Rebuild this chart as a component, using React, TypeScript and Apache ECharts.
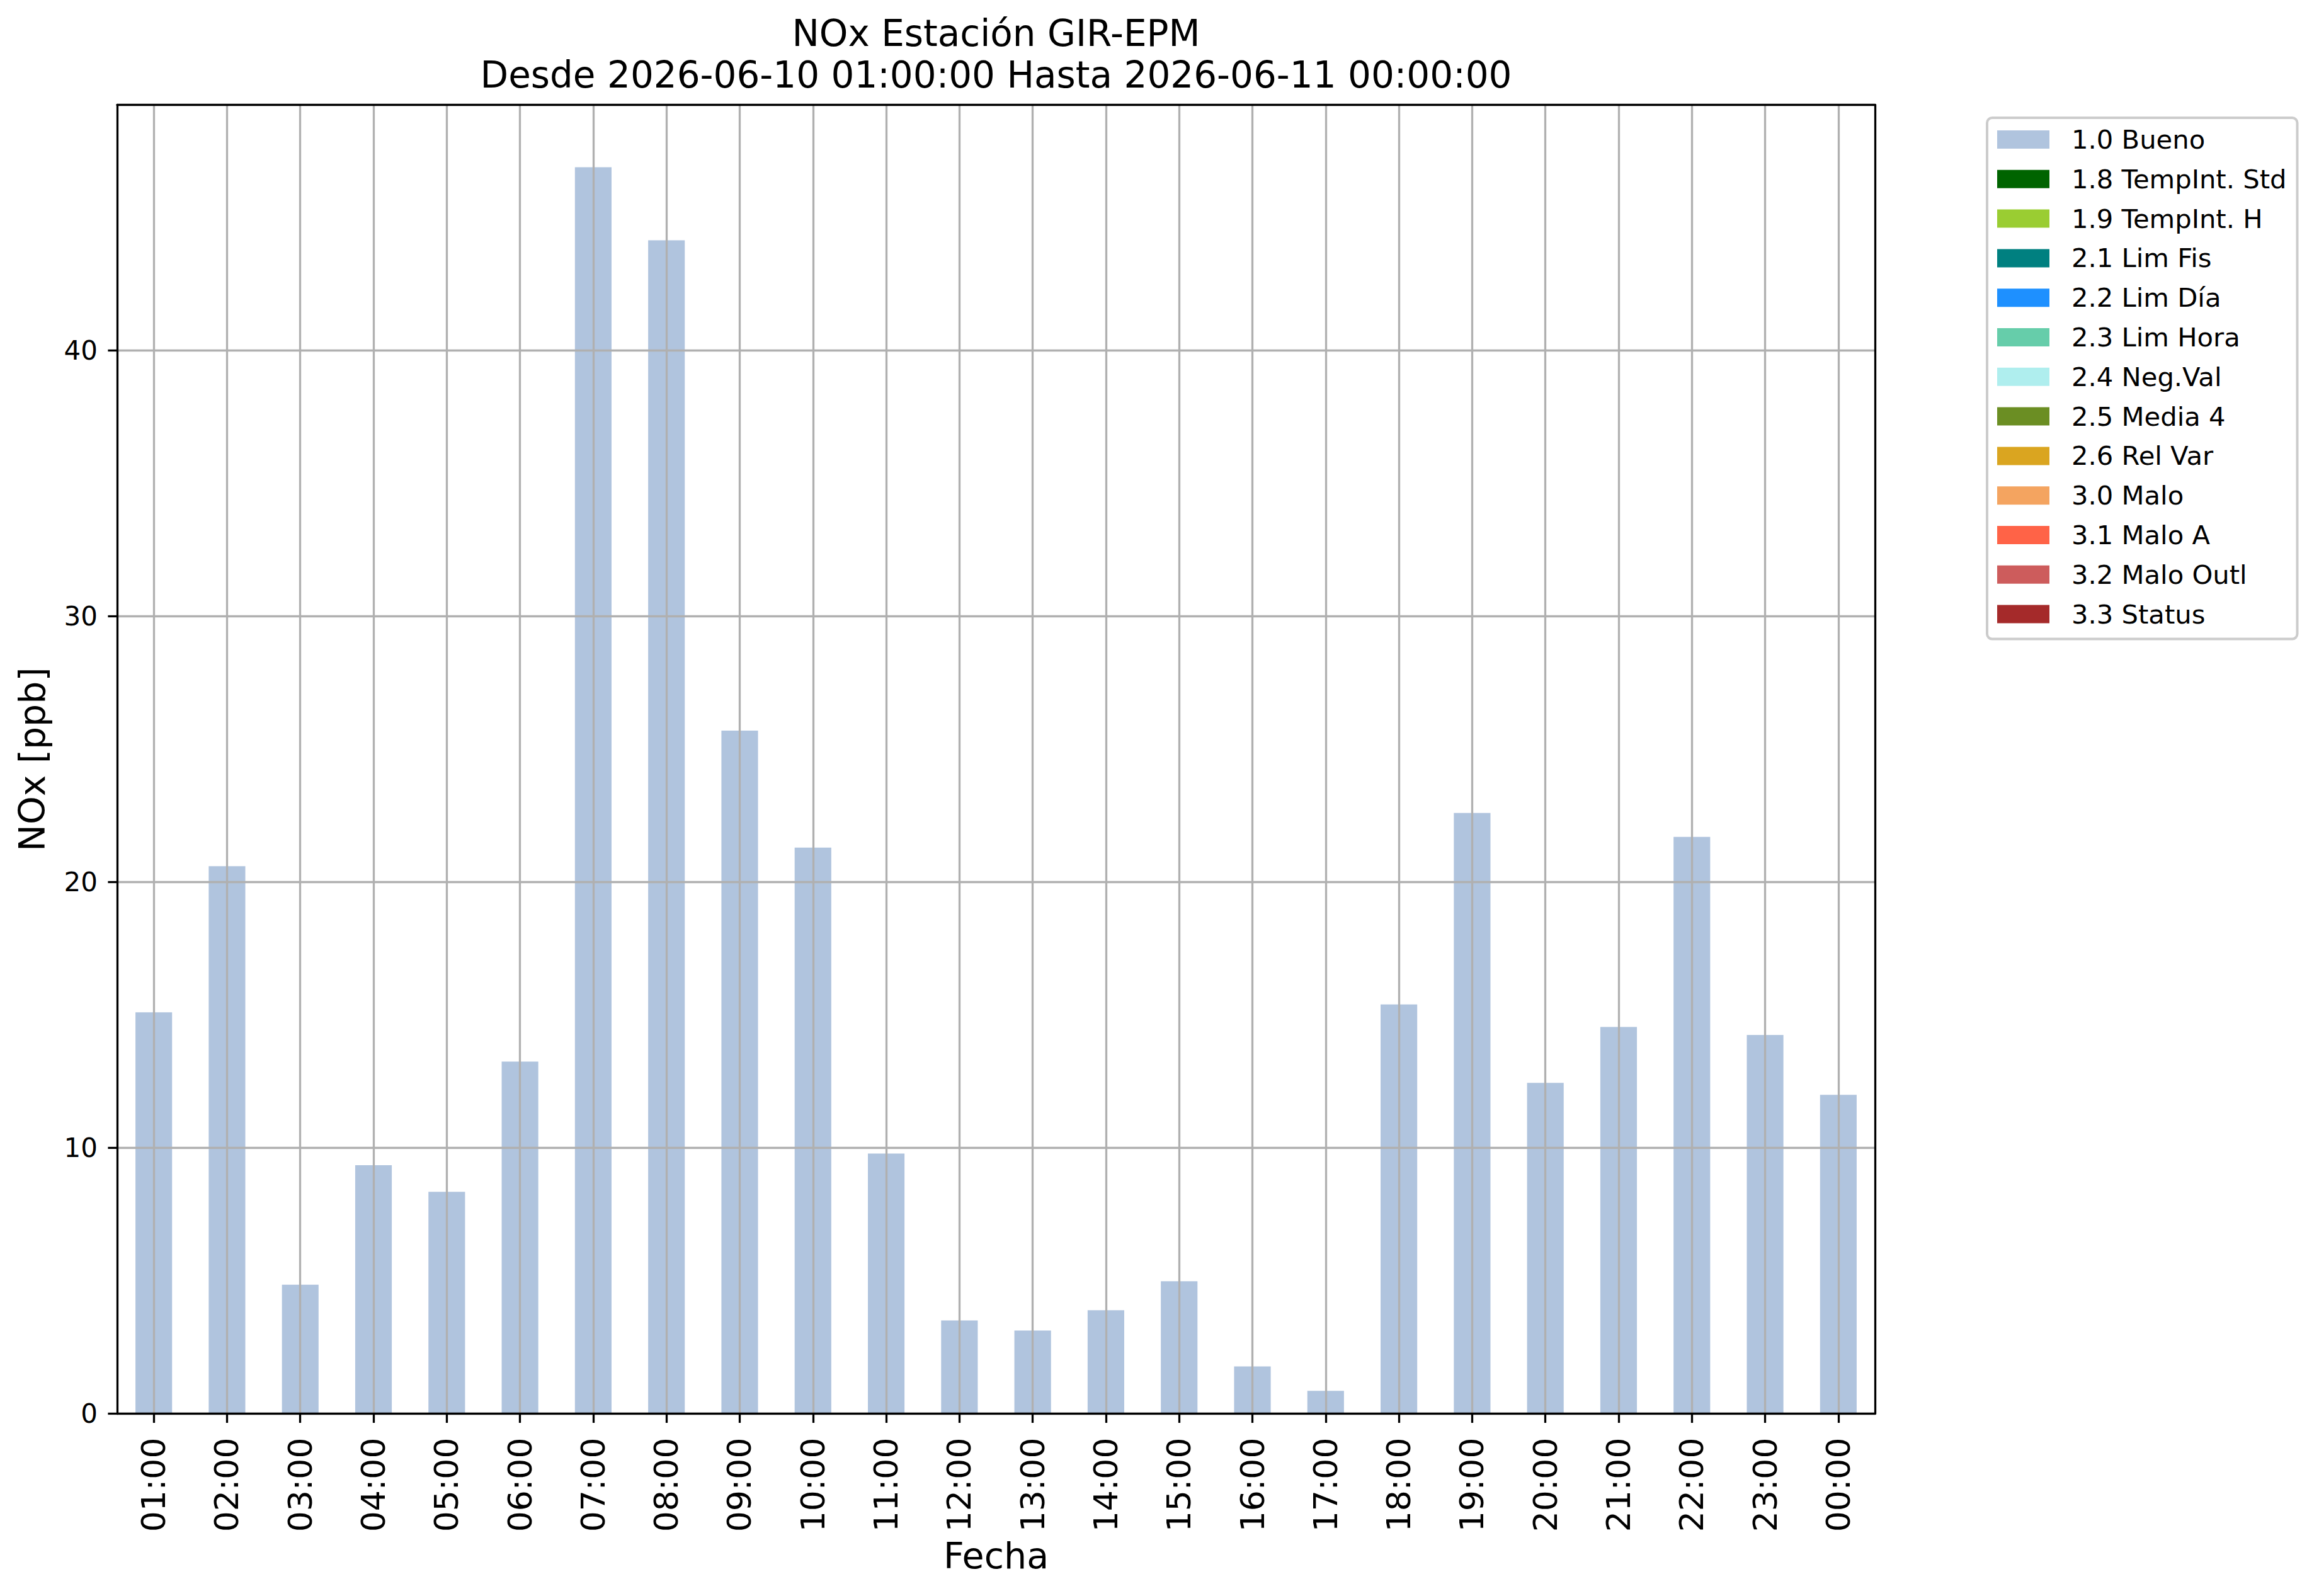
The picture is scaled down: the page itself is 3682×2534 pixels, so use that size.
import React, { useEffect, useRef } from 'react';
import * as echarts from 'echarts';

const categories = [
  '01:00', '02:00', '03:00', '04:00', '05:00', '06:00', '07:00', '08:00',
  '09:00', '10:00', '11:00', '12:00', '13:00', '14:00', '15:00', '16:00',
  '17:00', '18:00', '19:00', '20:00', '21:00', '22:00', '23:00', '00:00',
];

const buenoValues = [
  15.1, 20.6, 4.85, 9.35, 8.35, 13.25, 46.9, 44.15,
  25.7, 21.3, 9.79, 3.51, 3.13, 3.89, 4.98, 1.78,
  0.86, 15.4, 22.6, 12.45, 14.55, 21.7, 14.25, 12.0,
];

const emptyValues: number[] = [];

const legendNames = [
  '1.0 Bueno', '1.8 TempInt. Std', '1.9 TempInt. H', '2.1 Lim Fis', '2.2 Lim Día',
  '2.3 Lim Hora', '2.4 Neg.Val', '2.5 Media 4', '2.6 Rel Var', '3.0 Malo',
  '3.1 Malo A', '3.2 Malo Outl', '3.3 Status',
];

const legendColors = [
  '#B0C4DE', '#006400', '#9ACD32', '#008080', '#1E90FF',
  '#66CDAA', '#AFEEEE', '#6B8E23', '#DAA520', '#F4A460',
  '#FF6347', '#CD5C5C', '#A52A2A',
];

const yTickValues = [0, 10, 20, 30, 40];

const titleLines = ['NOx Estación GIR-EPM', 'Desde 2026-06-10 01:00:00 Hasta 2026-06-11 00:00:00'];
const xAxisTitle = 'Fecha';
const yAxisTitle = 'NOx [ppb]';

const FONT = '"DejaVu Sans", sans-serif';
const W = 3682;
const H = 2534;

export default function App() {
  const ref = useRef<HTMLDivElement>(null);

  useEffect(() => {
    document.body.style.margin = '0';
    if (!ref.current) return;
    const chart = echarts.init(ref.current, null, { renderer: 'svg', width: W, height: H });

    const gridLeft = 186;
    const gridRight = 2977;
    const gridTop = 166.5;
    const gridBottom = 2244.5;
    const yMax = Math.max(...buenoValues) * 1.05;

    const black = { color: '#000', width: 3.3 };
    const gridLineStyle = { color: '#b0b0b0', width: 3.3, type: 'solid' };

    // grid lines drawn over the bars (as matplotlib does here)
    const gridMarkData = [
      ...categories.map((c) => ({ xAxis: c })),
      ...yTickValues.filter((v) => v > 0).map((v) => ({ yAxis: v })),
    ];

    const series = legendNames.map((name, i) => ({
      type: 'bar',
      name,
      stack: 'calidad',
      barWidth: '50%',
      data: i === 0 ? buenoValues : emptyValues,
      itemStyle: { color: legendColors[i] },
      xAxisIndex: 0,
      yAxisIndex: 0,
      z: 2,
      ...(i === 0
        ? {
            markLine: {
              silent: true,
              symbol: ['none', 'none'],
              z: 4,
              label: { show: false },
              emphasis: { disabled: true },
              lineStyle: gridLineStyle,
              data: gridMarkData,
            },
          }
        : {}),
    }));

    chart.setOption({
      animation: false,
      backgroundColor: '#fff',
      grid: {
        left: gridLeft,
        top: gridTop,
        right: W - gridRight,
        bottom: H - gridBottom,
        containLabel: false,
      },
      legend: {
        orient: 'vertical',
        left: 3155,
        top: 187,
        padding: [13.5, 17, 18.5, 16],
        itemWidth: 83,
        itemHeight: 29,
        itemGap: 20.8,
        icon: 'rect',
        selectedMode: false,
        borderColor: '#cccccc',
        borderWidth: 4,
        borderRadius: 8,
        backgroundColor: 'rgba(255,255,255,0.8)',
        textStyle: {
          fontFamily: FONT,
          fontSize: 41.7,
          color: '#000',
          padding: [0, 0, 0, 30],
        },
        data: legendNames,
      },
      xAxis: [
        {
          type: 'category',
          data: categories,
          position: 'bottom',
          z: 6,
          boundaryGap: true,
          axisLine: { show: true, onZero: false, lineStyle: black },
          axisTick: { show: true, alignWithLabel: true, interval: 0, length: 14.6, lineStyle: black },
          axisLabel: {
            rotate: 90,
            interval: 0,
            fontSize: 52,
            margin: 38,
            color: '#000',
            fontFamily: FONT,
          },
          splitLine: { show: false },
        },
        {
          type: 'category',
          data: categories,
          position: 'top',
          z: 6,
          axisLine: { show: true, onZero: false, lineStyle: black },
          axisTick: { show: false },
          axisLabel: { show: false },
          splitLine: { show: false },
        },
      ],
      yAxis: [
        {
          type: 'value',
          min: 0,
          max: yMax,
          interval: 10,
          z: 6,
          axisLine: { show: true, onZero: false, lineStyle: black },
          axisTick: { show: true, length: 14.6, customValues: yTickValues, lineStyle: black },
          axisLabel: {
            customValues: yTickValues,
            fontSize: 42,
            margin: 31,
            color: '#000',
            fontFamily: FONT,
          },
          splitLine: { show: false },
        },
        {
          type: 'value',
          min: 0,
          max: yMax,
          position: 'right',
          z: 6,
          axisLine: { show: true, onZero: false, lineStyle: black },
          axisTick: { show: false },
          axisLabel: { show: false },
          splitLine: { show: false },
        },
      ],
      graphic: [
        {
          type: 'text',
          x: (gridLeft + gridRight) / 2,
          y: 53,
          style: {
            text: titleLines[0],
            fontFamily: FONT,
            fontSize: 58,
            fill: '#000',
            textAlign: 'center',
            textVerticalAlign: 'middle',
          },
        },
        {
          type: 'text',
          x: (gridLeft + gridRight) / 2,
          y: 119,
          style: {
            text: titleLines[1],
            fontFamily: FONT,
            fontSize: 58,
            fill: '#000',
            textAlign: 'center',
            textVerticalAlign: 'middle',
          },
        },
        {
          type: 'text',
          x: (gridLeft + gridRight) / 2,
          y: 2470,
          style: {
            text: xAxisTitle,
            fontFamily: FONT,
            fontSize: 57,
            fill: '#000',
            textAlign: 'center',
            textVerticalAlign: 'middle',
          },
        },
        {
          type: 'text',
          x: 51,
          y: (gridTop + gridBottom) / 2,
          rotation: Math.PI / 2,
          style: {
            text: yAxisTitle,
            fontFamily: FONT,
            fontSize: 57,
            fill: '#000',
            textAlign: 'center',
            textVerticalAlign: 'middle',
          },
        },
      ],
      series,
    });

    return () => {
      chart.dispose();
    };
  }, []);

  return <div ref={ref} style={{ width: W, height: H }} />;
}
